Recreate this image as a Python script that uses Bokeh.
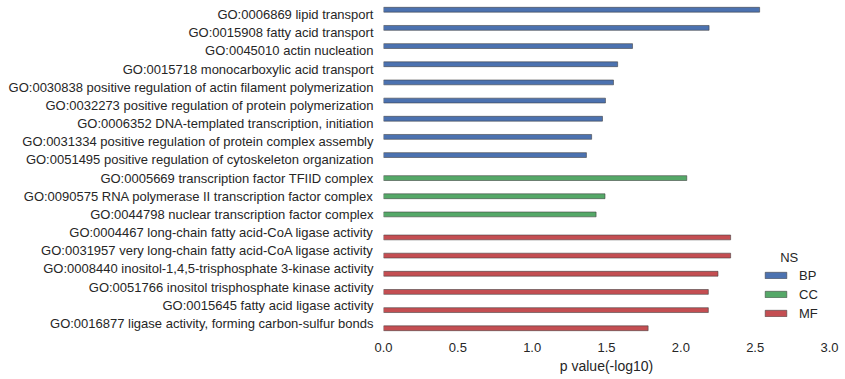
from bokeh.plotting import figure
from bokeh.models import (ColumnDataSource, Range1d, FixedTicker, NumeralTickFormatter,
                          Legend, LegendItem, Label)
from bokeh.transform import dodge
from bokeh.embed import file_html
from bokeh.resources import INLINE

terms = [
    "GO:0006869 lipid transport",
    "GO:0015908 fatty acid transport",
    "GO:0045010 actin nucleation",
    "GO:0015718 monocarboxylic acid transport",
    "GO:0030838 positive regulation of actin filament polymerization",
    "GO:0032273 positive regulation of protein polymerization",
    "GO:0006352 DNA-templated transcription, initiation",
    "GO:0031334 positive regulation of protein complex assembly",
    "GO:0051495 positive regulation of cytoskeleton organization",
    "GO:0005669 transcription factor TFIID complex",
    "GO:0090575 RNA polymerase II transcription factor complex",
    "GO:0044798 nuclear transcription factor complex",
    "GO:0004467 long-chain fatty acid-CoA ligase activity",
    "GO:0031957 very long-chain fatty acid-CoA ligase activity",
    "GO:0008440 inositol-1,4,5-trisphosphate 3-kinase activity",
    "GO:0051766 inositol trisphosphate kinase activity",
    "GO:0015645 fatty acid ligase activity",
    "GO:0016877 ligase activity, forming carbon-sulfur bonds",
]
ns = ["BP"] * 9 + ["CC"] * 3 + ["MF"] * 6
pvals = [2.53, 2.19, 1.675, 1.575, 1.547, 1.493, 1.473, 1.40, 1.365,
         2.04, 1.49, 1.43,
         2.335, 2.335, 2.25, 2.185, 2.185, 1.78]
ns_levels = ["BP", "CC", "MF"]
ns_colors = ["#4C72B0", "#55A868", "#C44E52"]
xticks = [0.0, 0.5, 1.0, 1.5, 2.0, 2.5, 3.0]

TXT = "#262626"
FONT = "Liberation Sans"

p = figure(width=845, height=379, output_backend="svg", toolbar_location=None,
           x_range=Range1d(0, 3.0), y_range=Range1d(17.5, -0.5),
           min_border_left=383, min_border_right=16, min_border_top=5, min_border_bottom=47)
p.outline_line_color = None
p.grid.visible = False
p.background_fill_color = "white"

bar_h = 0.8 / len(ns_levels)
items = []
for k, (lvl, col) in enumerate(zip(ns_levels, ns_colors)):
    idx = [i for i, n in enumerate(ns) if n == lvl]
    src = ColumnDataSource(dict(y=idx, v=[pvals[i] for i in idx]))
    off = (k - (len(ns_levels) - 1) / 2) * bar_h
    r = p.hbar(y=dodge("y", off, range=p.y_range), right="v", left=0, height=bar_h,
               source=src, fill_color=col, line_color="#3a3a3a", line_alpha=0.55, line_width=1)
    items.append(LegendItem(label=lvl, renderers=[r]))

legend = Legend(items=items, location=(379, 10), padding=0, margin=0, spacing=1,
                glyph_width=27, glyph_height=8, label_height=18, label_standoff=10,
                border_line_color=None, background_fill_alpha=0,
                label_text_font=FONT, label_text_font_size="13px", label_text_color=TXT)
p.add_layout(legend, "center")
p.add_layout(Label(x=2.729, y=13.37, text="NS", text_align="center", text_baseline="middle",
                   text_font=FONT, text_font_size="13px", text_color=TXT))

# y axis
ya = p.yaxis[0]
ya.ticker = FixedTicker(ticks=list(range(len(terms))))
ya.major_label_overrides = {i: t for i, t in enumerate(terms)}
ya.axis_line_color = None
ya.major_tick_line_color = None
ya.minor_tick_line_color = None
ya.major_tick_out = 0
ya.major_tick_in = 0
ya.major_label_standoff = 10
ya.major_label_text_font = FONT
ya.major_label_text_font_size = "13px"
ya.major_label_text_color = TXT

# x axis
xa = p.xaxis[0]
xa.ticker = FixedTicker(ticks=xticks)
xa.formatter = NumeralTickFormatter(format="0.0")
xa.axis_line_color = None
xa.major_tick_line_color = None
xa.minor_tick_line_color = None
xa.major_tick_out = 0
xa.major_tick_in = 0
xa.major_label_standoff = 10
xa.major_label_text_font = FONT
xa.major_label_text_font_size = "13px"
xa.major_label_text_color = TXT
xa.axis_label = "p value(-log10)"
xa.axis_label_text_font = FONT
xa.axis_label_text_font_size = "14px"
xa.axis_label_text_font_style = "normal"
xa.axis_label_text_color = TXT
xa.axis_label_standoff = 3

open("out.html", "w").write(file_html(p, INLINE))
